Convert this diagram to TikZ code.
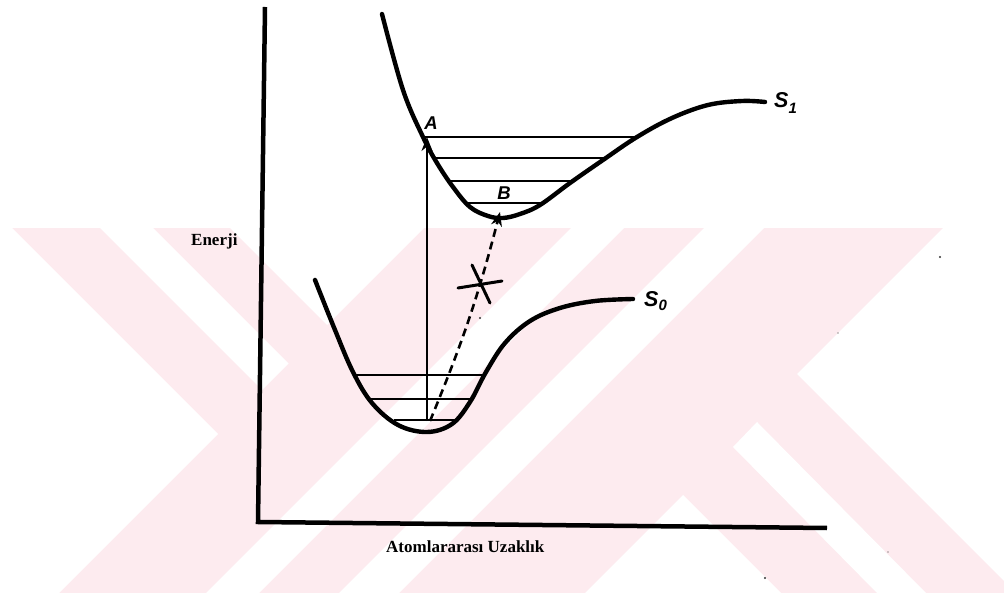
\documentclass[tikz,border=0pt]{standalone}
\usepackage{fontspec}
\setmainfont{Liberation Serif}
\newfontfamily\labfont{Liberation Sans}
\usetikzlibrary{arrows.meta}
\definecolor{wmpink}{RGB}{253,235,239}
\begin{document}
\begin{tikzpicture}[x=1pt,y=-1pt,
  curve/.style={line width=4.4pt, line cap=round, line join=round},
  level/.style={line width=2.2pt},
  axisline/.style={line width=4.5pt, line join=miter},
  trans/.style={line width=2pt, -{Stealth[length=14pt,width=11pt]}},
  dashtrans/.style={line width=2.6pt, dash pattern=on 8pt off 5pt, -{Stealth[length=14pt,width=11pt]}},
  crossmark/.style={line width=3pt, line cap=round},
  lab/.style={font=\labfont\bfseries\itshape\fontsize{18.5}{18.5}\selectfont, inner sep=0pt},
  slab/.style={font=\labfont\bfseries\itshape\fontsize{21.5}{21.5}\selectfont, inner sep=0pt, anchor=base west},
  axlab/.style={font=\bfseries\fontsize{17}{17}\selectfont, inner sep=0pt, anchor=base west},
  wmw/.style={fill=white, draw=none},
  speck/.style={fill=black!80}]
\useasboundingbox (0,0) rectangle (1004,593);
% watermark
\fill[wmpink] (0,228) rectangle (1004,593);
\fill[wmw] (0,228) -- (12,228) -- (218,434) -- (59,593) -- (0,593) -- cycle;
\fill[wmw] (100,228) -- (153,228) -- (288.5,363.5) -- (262,390) -- cycle;
\fill[wmw] (230,228) -- (424,228) -- (327,325) -- cycle;
\fill[wmw] (571,228) -- (624,228) -- (259,593) -- (206,593) -- cycle;
\fill[wmw] (704,228) -- (764,228) -- (399,593) -- (339,593) -- cycle;
\fill[wmw] (943,228) -- (1004,228) -- (1004,581) -- (797,374) -- cycle;
\fill[wmw] (683,495) -- (781,593) -- (585,593) -- cycle;
\fill[wmw] (757,422) -- (926,593) -- (877,593) -- (733,447) -- cycle;
% axes
\coordinate (ytop) at (265,7);
\coordinate (origin) at (258,522);
\coordinate (xend) at (827,528);
\draw[axisline] (ytop) -- (origin) -- (xend);
\node[axlab] (ylab) at (191,246) {Enerji};
\node[axlab] (xlab) at (386,552) {Atomlararası Uzaklık};
% S1 curve
\draw[curve] plot[smooth, tension=0.6] coordinates {(382,14) (403,90) (423,137) (437,163) (453,187) (470,207) (488,216) (503,218) (520,214) (540,205) (570,183) (603,160) (637,137) (672,118) (708,105) (742,101) (765,102)};
\node[slab] (S1) at (774,108) {S\raisebox{-6pt}{\fontsize{15}{15}\selectfont 1}};
% S1 levels
\draw[level] (423,137) -- (635,137);
\draw[level] (432,158) -- (607,158);
\draw[level] (449,181) -- (574,181);
\draw[level] (466,203) -- (540,203);
% S0 curve
\draw[curve] plot[smooth, tension=0.6] coordinates {(315,280) (335,330) (353,372) (372,403) (398,425) (427,432) (452,424) (470,402) (486,372) (505,343) (530,321) (560,308) (595,301) (633,299)};
\node[slab] (S0) at (644,307) {S\raisebox{-4pt}{\fontsize{15}{15}\selectfont 0}};
% S0 levels
\draw[level] (353,375) -- (484,375);
\draw[level] (370,399) -- (471,399);
\draw[level] (394,420) -- (456,420);
% transitions
\coordinate (g0) at (427,421);
\coordinate (Apt) at (427,137);
\coordinate (d0) at (430,421);
\coordinate (Bpt) at (500,212);
\draw[trans] (g0) -- (Apt);
\draw[dashtrans] (d0) to[bend right=4] (Bpt);
\node[lab] (A) at (431,123) {A};
\node[lab] (B) at (504,193) {B};
% forbidden mark
\coordinate (x1) at (458,288);
\coordinate (x2) at (502,281);
\coordinate (x3) at (472,265);
\coordinate (x4) at (490,303);
\draw[crossmark] (x1) -- (x2);
\draw[crossmark] (x3) -- (x4);
% specks
\fill[speck] (480,318) circle[radius=1.2pt];
\fill[speck] (940,257) circle[radius=1.2pt];
\fill[speck] (838,333) circle[radius=0.7pt];
\fill[speck] (888,552) circle[radius=0.7pt];
\fill[speck] (765,578) circle[radius=1.1pt];
\end{tikzpicture}
\end{document}
